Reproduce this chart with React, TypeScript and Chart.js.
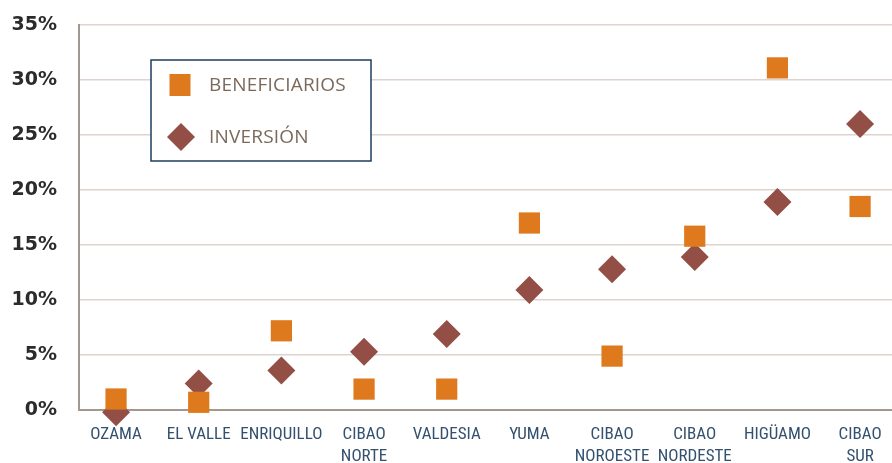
import React, { useEffect, useRef } from 'react';
import { Chart, registerables } from 'chart.js';

Chart.register(...registerables);

const categories: string[][] = [
  ['OZAMA'],
  ['EL VALLE'],
  ['ENRIQUILLO'],
  ['CIBAO', 'NORTE'],
  ['VALDESIA'],
  ['YUMA'],
  ['CIBAO', 'NOROESTE'],
  ['CIBAO', 'NORDESTE'],
  ['HIGÜAMO'],
  ['CIBAO', 'SUR'],
];
const beneficiarios = [1.0, 0.7, 7.2, 1.9, 1.9, 17.0, 4.9, 15.8, 31.1, 18.5];
const inversion = [-0.2, 2.4, 3.6, 5.3, 6.9, 10.9, 12.8, 13.9, 18.9, 26.0];
const yTicks = [0, 5, 10, 15, 20, 25, 30, 35];
const seriesNames = ['BENEFICIARIOS', 'INVERSIÓN'];

const ORANGE = '#df791d';
const BROWN = '#934f45';

const legendPlugin = {
  id: 'boxLegend',
  afterDraw(chart: any) {
    const { ctx, chartArea } = chart;
    const x0 = chartArea.left + 72;
    const y0 = chartArea.top + 35;
    const w = 220;
    const h = 101;
    ctx.save();
    ctx.fillStyle = '#ffffff';
    ctx.fillRect(x0, y0, w, h);
    ctx.strokeStyle = '#1f3b5c';
    ctx.lineWidth = 1.5;
    ctx.strokeRect(x0, y0, w, h);
    const sx = x0 + 29;
    const sy1 = y0 + 25;
    ctx.fillStyle = ORANGE;
    ctx.fillRect(sx - 10.5, sy1 - 11, 21, 22);
    const sy2 = y0 + 77;
    const r = 14;
    ctx.fillStyle = BROWN;
    ctx.beginPath();
    ctx.moveTo(sx + 1 - r, sy2);
    ctx.lineTo(sx + 1, sy2 - r);
    ctx.lineTo(sx + 1 + r, sy2);
    ctx.lineTo(sx + 1, sy2 + r);
    ctx.closePath();
    ctx.fill();
    ctx.fillStyle = '#7b6a5a';
    ctx.font = '19px "Open Sans", sans-serif';
    try { (ctx as any).letterSpacing = '0.2px'; } catch (e) {}
    ctx.textBaseline = 'middle';
    ctx.textAlign = 'left';
    ctx.fillText(seriesNames[0], x0 + 58, sy1 + 1);
    ctx.fillText(seriesNames[1], x0 + 58, sy2 + 1);
    ctx.restore();
  },
};

export default function App() {
  const ref = useRef<HTMLCanvasElement | null>(null);

  useEffect(() => {
    if (!ref.current) return;
    const chart = new Chart(ref.current, {
      type: 'scatter',
      data: {
        datasets: [
          {
            label: seriesNames[0],
            data: beneficiarios.map((v, i) => ({ x: i, y: v })),
            pointStyle: 'rect',
            pointRadius: 15,
            pointHoverRadius: 15,
            backgroundColor: ORANGE,
            borderWidth: 0,
            clip: false,
          } as any,
          {
            label: seriesNames[1],
            data: inversion.map((v, i) => ({ x: i, y: v })),
            pointStyle: 'rectRot',
            pointRadius: 14,
            pointHoverRadius: 14,
            backgroundColor: BROWN,
            borderWidth: 0,
            clip: false,
          } as any,
        ],
      },
      options: {
        animation: false,
        responsive: true,
        maintainAspectRatio: false,
        events: [],
        layout: { padding: { top: 25, right: 0, left: 0, bottom: 0 } },
        plugins: {
          legend: { display: false },
          tooltip: { enabled: false },
        },
        scales: {
          x: {
            type: 'linear',
            min: -0.448,
            max: 9.386,
            afterBuildTicks: (axis: any) => {
              axis.ticks = categories.map((_, i) => ({ value: i }));
            },
            afterFit: (s: any) => {
              s.height = 53;
              s.paddingLeft = 0;
              s.paddingRight = 0;
            },
            grid: { display: false, drawTicks: false },
            border: { display: true, color: '#a39890', width: 2 },
            ticks: {
              padding: 14,
              maxRotation: 0,
              autoSkip: false,
              color: '#33506f',
              font: { family: '"Liberation Sans Narrow", "Roboto Condensed", Roboto, sans-serif', size: 17, lineHeight: 1.3 },
              callback: (v: any) => categories[Math.round(v)] ?? '',
            },
          },
          y: {
            type: 'linear',
            min: yTicks[0],
            max: yTicks[yTicks.length - 1],
            afterBuildTicks: (axis: any) => {
              axis.ticks = yTicks.map((v) => ({ value: v }));
            },
            afterFit: (s: any) => {
              s.width = 79;
              s.paddingTop = 0;
              s.paddingBottom = 0;
            },
            grid: { color: '#ddd4d0', lineWidth: 1.5, drawTicks: false },
            border: { display: true, color: '#a39890', width: 2 },
            ticks: {
              padding: 22,
              color: '#2b2b2b',
              font: { family: '"DejaVu Sans", sans-serif', size: 19, weight: 'bold' },
              callback: (v: any) => v + '%',
            },
          },
        },
      },
      plugins: [legendPlugin],
    });
    return () => chart.destroy();
  }, []);

  return (
    <div style={{ position: 'fixed', left: 0, top: 0, width: 892, height: 463, overflow: 'hidden', background: '#fff' }}>
      <div style={{ position: 'absolute', left: 0, top: 0, width: 907, height: 463 }}>
        <canvas ref={ref} />
      </div>
    </div>
  );
}
